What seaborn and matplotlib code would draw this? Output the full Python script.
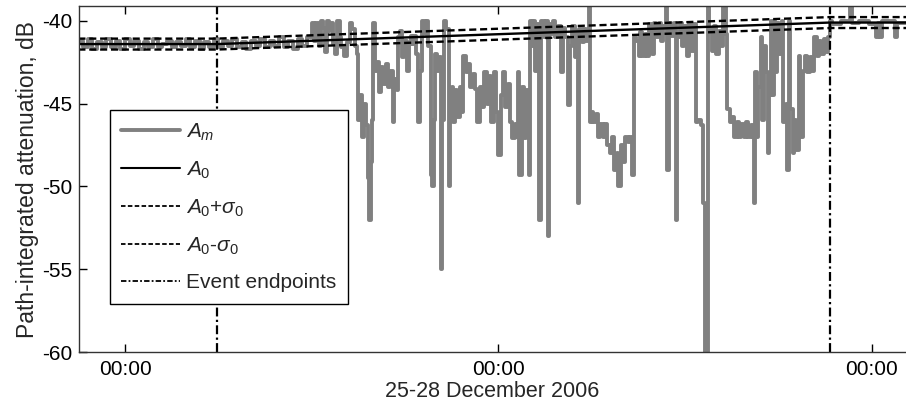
import numpy as np
import pandas as pd
import matplotlib
matplotlib.use("Agg")
import matplotlib.pyplot as plt
import matplotlib.dates as mdates
from matplotlib.lines import Line2D
import seaborn as sns

# ---------------- data (hours after 2006-12-25 00:00, dB) ----------------
am_hours = [
    21.0, 21.3, 21.6, 21.9, 22.2, 22.5, 22.8, 23.1, 23.4, 23.7,
    24.0, 24.3, 24.6, 24.9, 25.2, 25.5, 25.8, 26.1, 26.4, 26.7,
    27.0, 27.3, 27.6, 27.9, 28.2, 28.5, 28.8, 29.1, 29.4, 29.7,
    30.0, 30.3, 30.6, 30.9, 31.2, 31.5, 31.8, 32.1, 32.4, 32.7,
    33.0, 33.3, 33.6, 33.9, 34.2, 34.5, 34.8, 35.1, 35.4, 35.7,
    36.0, 36.15, 36.3, 36.45, 36.6, 36.75, 36.85, 36.95, 37.1, 37.2,
    37.35, 37.5, 37.6, 37.8, 37.9, 38.1, 38.25, 38.45, 38.6, 38.75,
    38.9, 39.0, 39.1, 39.2, 39.35, 39.5, 39.6, 39.7, 39.8, 39.9,
    39.95, 40.05, 40.2, 40.35, 40.45, 40.6, 40.75, 40.9, 41.05, 41.2,
    41.3, 41.45, 41.55, 41.7, 41.8, 41.95, 42.1, 42.25, 42.4,
    42.45, 42.6, 42.7, 42.85, 42.95, 43.1, 43.25, 43.4, 43.5, 43.65,
    43.75, 43.85, 43.95, 44.05, 44.15, 44.3, 44.4, 44.5, 44.65, 44.8,
    44.9, 45.0, 45.1, 45.2, 45.35, 45.5, 45.6, 45.75, 45.9, 46.05,
    46.2, 46.35, 46.5, 46.65, 46.8, 46.95, 47.1, 47.25, 47.4, 47.55,
    47.7, 47.85, 48.0, 48.15, 48.3, 48.45, 48.6, 48.75, 48.9, 49.05,
    49.15, 49.25, 49.35, 49.5, 49.65, 49.8, 49.95, 50.05, 50.15, 50.25,
    50.35, 50.45, 50.6, 50.75, 50.9, 51.05, 51.15, 51.25, 51.4, 51.5,
    51.65, 51.8, 52.0, 52.15, 52.3, 52.45, 52.6, 52.75, 52.9,
    53.0, 53.1, 53.2, 53.35, 53.5, 53.65, 53.8, 53.9, 54.0, 54.1,
    54.25, 54.4, 54.55, 54.7, 54.85, 55.0, 55.15, 55.3, 55.45, 55.6,
    55.7, 55.85, 56.0, 56.15, 56.3, 56.45, 56.55, 56.7, 56.85, 57.0,
    57.1, 57.25, 57.4, 57.55, 57.7, 57.85, 58.0, 58.15, 58.3, 58.45,
    58.6, 58.75, 58.85, 58.95, 59.1, 59.25, 59.4, 59.5, 59.65, 59.8,
    59.95, 60.1, 60.25, 60.4, 60.55, 60.7, 60.85, 61.0, 61.15, 61.3,
    61.45, 61.55, 61.7, 61.85, 62.0, 62.15, 62.3, 62.45, 62.6, 62.7,
    62.85, 63.0, 63.15, 63.3, 63.45,
    63.6, 63.75, 63.9, 64.05, 64.2, 64.35, 64.42, 64.5, 64.6, 64.7,
    64.85, 64.95, 65.05, 65.2, 65.3, 65.4, 65.5, 65.6, 65.7, 65.8,
    65.9, 66.05, 66.2, 66.3, 66.45, 66.55, 66.65, 66.75, 66.9, 67.0,
    67.15, 67.3, 67.4, 67.55, 67.7, 67.85, 68.0, 68.15, 68.3, 68.45,
    68.6, 68.75, 68.9, 69.05, 69.2, 69.3, 69.45, 70.0, 70.6, 70.7,
    71.2, 71.8, 72.25, 72.4, 72.5, 72.65, 73.5, 73.6, 74.3,
]
am_db = [
    -41.2, -41.6, -41.1, -41.7, -41.3, -41.6, -41.1, -41.6, -41.2, -41.7,
    -41.1, -41.5, -41.2, -41.7, -41.3, -41.6, -41.1, -41.6, -41.4, -41.2,
    -41.6, -41.3, -41.5, -41.1, -41.6, -41.2, -41.7, -41.3, -41.6, -41.1,
    -41.6, -41.2, -41.5, -41.1, -41.6, -41.3, -41.7, -41.2, -41.5, -41.1,
    -41.6, -41.2, -41.5, -41.0, -41.6, -41.2, -41.7, -41.1, -41.5, -41.0,
    -40.1, -41.2, -40.1, -41.5, -40.0, -40.4, -41.9, -40.0, -40.6, -40.1,
    -41.4, -42.0, -40.0, -41.0, -41.6, -42.1, -41.3, -40.1, -40.5, -41.5,
    -42.0, -46.0, -44.5, -47.0, -45.0, -46.3, -49.5, -52.0, -48.5, -46.0,
    -40.1, -43.0, -42.5, -44.3, -42.8, -43.8, -42.6, -44.0, -43.0, -46.1,
    -43.5, -44.2, -41.0, -40.6, -42.2, -41.2, -43.0, -41.4, -40.9,
    -41.4, -40.9, -42.0, -46.1, -43.0, -40.0, -40.8, -40.0, -41.5, -49.3,
    -50.0, -46.0, -42.0, -43.0, -42.2, -55.0, -46.0, -40.0, -40.5, -50.0,
    -46.0, -44.0, -46.1, -44.2, -45.8, -44.0, -45.5, -42.1, -43.1, -42.6,
    -44.0, -43.2, -44.1, -46.1, -44.0, -45.2, -43.1, -45.0, -43.3, -46.1,
    -43.1, -45.5, -48.1, -44.5, -43.1, -45.2, -43.8, -46.1, -47.1, -46.2,
    -47.0, -43.1, -49.3, -44.0, -47.1, -44.2, -49.3, -40.0, -41.5, -40.0,
    -43.0, -40.2, -52.0, -40.0, -41.0, -40.0, -53.0, -40.2, -40.8, -40.0,
    -41.0, -40.3, -43.1, -40.4, -41.0, -45.1, -41.5, -40.3, -42.2,
    -40.6, -51.0, -40.5, -41.3, -40.5, -41.2, -39.1, -46.1, -45.5, -46.1,
    -45.6, -47.0, -46.2, -47.0, -46.2, -47.5, -48.0, -47.0, -49.0, -48.0,
    -50.0, -47.5, -48.5, -47.0, -47.3, -47.0, -49.3, -41.0, -41.2, -42.1,
    -40.7, -42.1, -40.8, -42.1, -40.2, -42.0, -40.1, -41.0, -40.1, -41.2,
    -40.3, -39.1, -49.0, -40.1, -40.9, -40.1, -52.0, -41.0, -40.1, -41.5,
    -40.3, -42.1, -40.1, -41.8, -40.2, -46.1, -46.0, -46.3, -51.0, -60.0,
    -39.1, -40.5, -41.8, -40.3, -42.0, -40.6, -41.5, -39.1, -40.8, -45.3,
    -46.1, -45.8, -47.0, -46.1, -47.0,
    -46.2, -47.0, -46.1, -47.0, -46.3, -47.0, -51.0, -43.1, -47.0, -44.0,
    -41.0, -46.0, -41.5, -43.1, -48.0, -44.5, -40.0, -44.5, -40.0, -43.1,
    -40.1, -42.0, -40.0, -46.1, -45.0, -49.0, -40.0, -45.3, -48.0, -46.0,
    -47.8, -42.1, -47.0, -43.0, -42.1, -43.1, -42.2, -43.0, -41.0, -42.1,
    -41.2, -42.0, -41.1, -41.9, -41.0, -40.0, -40.2, -40.0, -39.1, -40.1,
    -40.0, -40.2, -41.0, -40.1, -41.0, -40.0, -41.0, -40.1, -40.0,
]

a0_hours = [21.0, 29.9, 69.3, 74.3]
a0_db = [-41.4, -41.4, -40.1, -40.1]
sigma0 = 0.33
event_hours = [29.9, 69.3]
xtick_hours = [24, 48, 72]
yticks = [-60, -55, -50, -45, -40]
xlim_hours = [21.04, 74.19]
ylim = [-60, -39.1]

labels = [r"$A_m$", r"$A_{\mathit{0}}$", r"$A_{\mathit{0}}$+$\sigma_{\mathit{0}}$",
          r"$A_{\mathit{0}}$-$\sigma_{\mathit{0}}$", "Event endpoints"]

# ---------------- style ----------------
sns.set_theme(style="white")
plt.rcParams["font.family"] = ["Liberation Sans", "DejaVu Sans"]
plt.rcParams["mathtext.fontset"] = "custom"
plt.rcParams["mathtext.it"] = "Liberation Sans:italic"
plt.rcParams["mathtext.rm"] = "Liberation Sans"
plt.rcParams["mathtext.sf"] = "Liberation Sans"
plt.rcParams["axes.unicode_minus"] = False

base = pd.Timestamp("2006-12-25")


def to_time(h):
    return base + pd.to_timedelta(np.asarray(h, dtype=float), unit="h")


fig = plt.figure(figsize=(9.06, 4.05), dpi=100)
ax = fig.add_axes([79 / 906, 1 - 352 / 405, 827 / 906, 346 / 405])

am = pd.DataFrame({"time": to_time(am_hours), "dB": am_db})
sns.lineplot(data=am, x="time", y="dB", ax=ax, color="#808080", lw=2.8,
             drawstyle="steps-post", estimator=None, sort=False, legend=False)

a0 = pd.DataFrame({"time": to_time(a0_hours), "dB": a0_db})
a0["up"] = a0["dB"] + sigma0
a0["lo"] = a0["dB"] - sigma0
sns.lineplot(data=a0, x="time", y="dB", ax=ax, color="black", lw=1.7,
             estimator=None, sort=False, legend=False)
sns.lineplot(data=a0, x="time", y="up", ax=ax, color="black", lw=1.7,
             dashes=False, estimator=None, sort=False, legend=False)
sns.lineplot(data=a0, x="time", y="lo", ax=ax, color="black", lw=1.7,
             dashes=False, estimator=None, sort=False, legend=False)
lines = ax.get_lines()
lines[-2].set_dashes((3, 1.6))
lines[-1].set_dashes((3, 1.6))

for eh in event_hours:
    ax.axvline(to_time([eh])[0], color="black", lw=1.6, dashes=(4, 1.5, 1, 1.5))

ax.set_xlim(to_time(xlim_hours))
ax.set_ylim(ylim)
ax.set_xticks(to_time(xtick_hours))
ax.xaxis.set_major_formatter(mdates.DateFormatter("%H:%M"))
ax.set_yticks(yticks)
ax.tick_params(axis="both", direction="in", length=6, width=1, colors="black",
               labelsize=15, top=True, right=False, left=True, bottom=True)
ax.tick_params(axis="y", pad=5)
ax.tick_params(axis="x", pad=6)
for side, sp in ax.spines.items():
    sp.set_color("#333333")
    sp.set_linewidth(1.0)
ax.spines["right"].set_visible(False)

ax.set_xlabel("25-28 December 2006", fontsize=15.5, labelpad=1)
ax.set_ylabel("Path-integrated attenuation, dB", fontsize=16.5, labelpad=2)
ax.grid(False)

handles = [
    Line2D([], [], color="#808080", lw=2.8),
    Line2D([], [], color="black", lw=1.5),
    Line2D([], [], color="black", lw=1.3, dashes=(2.5, 1.3)),
    Line2D([], [], color="black", lw=1.3, dashes=(2.5, 1.3)),
    Line2D([], [], color="black", lw=1.3, dashes=(3, 1.2, 1, 1.2)),
]
leg = ax.legend(handles, labels, loc="upper left", bbox_to_anchor=(0.0375, 0.699),
                borderaxespad=0, frameon=True, fancybox=False, edgecolor="black",
                framealpha=1, fontsize=15, handlelength=2.8, handletextpad=0.3,
                borderpad=0.55, labelspacing=0.8)
leg.get_frame().set_linewidth(1.0)

fig.savefig("out.png", dpi=100)
